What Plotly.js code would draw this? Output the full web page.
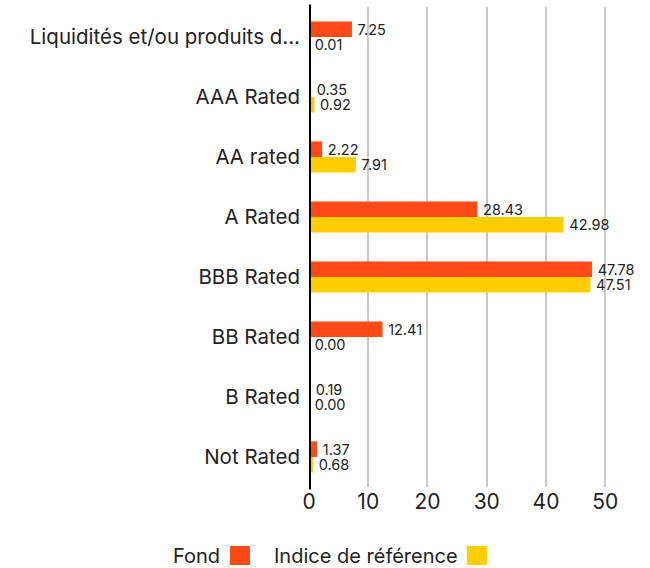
<!DOCTYPE html>
<html>
<head>
<meta charset="utf-8">
<script src="https://cdn.plot.ly/plotly-3.0.1.min.js"></script>
<style>html,body{margin:0;padding:0;background:#fff;}#chart{width:650px;height:568px;}</style>
</head>
<body>
<div id="chart"></div>
<script>
const categories = ["Liquidités et/ou produits d...", "AAA Rated", "AA rated", "A Rated", "BBB Rated", "BB Rated", "B Rated", "Not Rated"];
const fondValues = [7.25, 0.35, 2.22, 28.43, 47.78, 12.41, 0.19, 1.37];
const indiceValues = [0.01, 0.92, 7.91, 42.98, 47.51, 0.00, 0.00, 0.68];
const seriesNames = ["Fond", "Indice de référence"];
const seriesColors = ["#FF4A17", "#FFCE00"];
const xTicks = [0, 10, 20, 30, 40, 50];

const font = "Inter, Roboto, 'Noto Sans', sans-serif";

function mk(vals, i) {
  return {
    type: "bar", orientation: "h",
    y: categories, x: vals, name: seriesNames[i],
    marker: {color: seriesColors[i]},
    text: vals.map(v => "\u2009" + v.toFixed(2)),
    textposition: "outside",
    constraintext: "none",
    textfont: {family: font, size: 14.5, color: "#222"},
    cliponaxis: false,
    hoverinfo: "x+name"
  };
}

const data = [mk(fondValues, 0), mk(indiceValues, 1)];

// legend drawn as text + square after the text
const L = 309, W = 314, B = 487, H = 480;
function px(x) { return (x - L) / W; }
function py(y) { return (B - y) / H; }
const legendItems = [
  {textRight: 222, sq: [230, 250]},
  {textRight: 460, sq: [467, 487]}
];
const annotations = legendItems.map((it, i) => ({
  xref: "paper", yref: "paper", x: px(it.textRight), y: py(556),
  xanchor: "right", yanchor: "middle", showarrow: false,
  text: seriesNames[i], font: {family: font, size: 20, color: "#222"}
}));
const shapes = legendItems.map((it, i) => ({
  type: "rect", xref: "paper", yref: "paper",
  x0: px(it.sq[0]), x1: px(it.sq[1]), y0: py(565), y1: py(546),
  fillcolor: seriesColors[i], line: {width: 0}
}));

const layout = {
  width: 650, height: 568,
  margin: {l: 309, r: 27, t: 7, b: 81},
  paper_bgcolor: "#fff", plot_bgcolor: "#fff",
  barmode: "group", bargap: 0.48, bargroupgap: 0,
  showlegend: false,
  font: {family: font, color: "#222"},
  xaxis: {
    range: [0, 53], tickvals: xTicks, ticktext: xTicks.map(String),
    showgrid: true, gridcolor: "#c8c8c8", gridwidth: 2,
    zeroline: false, showline: false, ticks: "",
    tickfont: {family: font, size: 21, color: "#222"}
  },
  yaxis: {
    autorange: "reversed", type: "category",
    showgrid: false, zeroline: false, ticks: "",
    showline: false,
    tickfont: {family: font, size: 20.5, color: "#222"},
    ticklabelstandoff: 8
  },
  shapes: shapes.concat([{
    type: "line", xref: "x", yref: "paper", x0: 0, x1: 0, y0: -0.005, y1: 1.005,
    line: {color: "#000", width: 4}
  }]),
  annotations: annotations
};

Plotly.newPlot("chart", data, layout, {displayModeBar: false, staticPlot: true});
</script>
</body>
</html>
